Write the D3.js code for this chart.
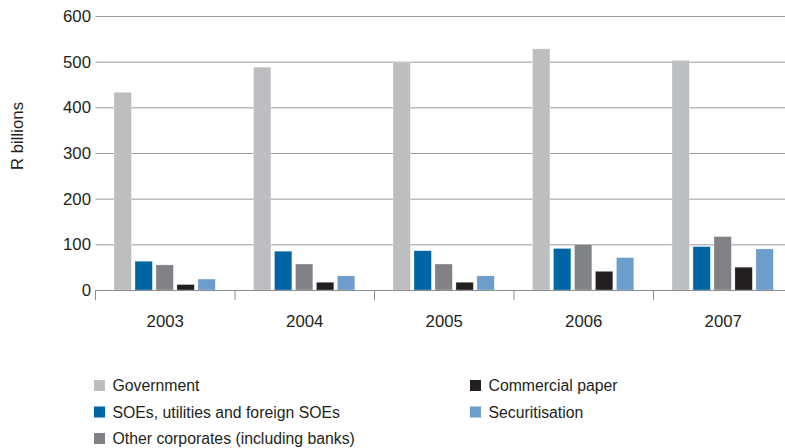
<!DOCTYPE html>
<html>
<head>
<meta charset="utf-8">
<script src="https://cdn.jsdelivr.net/npm/d3@7"></script>
<style>
  html, body { margin: 0; padding: 0; background: #fff; }
  svg { display: block; font-family: "Liberation Sans", Arial, sans-serif; }
</style>
</head>
<body>
<svg id="chart" width="785" height="448"></svg>
<script>
// Bond issuance by issuer type, R billions
const years = ["2003", "2004", "2005", "2006", "2007"];
const seriesNames = [
  "Government",
  "SOEs, utilities and foreign SOEs",
  "Other corporates (including banks)",
  "Commercial paper",
  "Securitisation"
];
const government   = [433, 488, 499, 528, 503];
const soes         = [63, 85, 86, 91, 95];
const otherCorp    = [55, 57, 57, 100, 117];
const commPaper    = [12, 17, 17, 41, 50];
const securitisation = [24, 31, 31, 71, 90];
const yTicks = [0, 100, 200, 300, 400, 500, 600];
const colors = ["#bcbec0", "#0065a4", "#808285", "#231f20", "#6d9ecb"];

const seriesValues = [government, soes, otherCorp, commPaper, securitisation];
const rows = years.map((y, i) => ({
  year: y,
  values: seriesNames.map((name, s) => ({ name, s, value: seriesValues[s][i] }))
}));

const FONT = "'Liberation Sans', Arial, sans-serif";
const svg = d3.select("#chart");

const x0 = d3.scaleBand().domain(years).range([95.5, 793]).paddingInner(0).paddingOuter(0);
const x1 = d3.scaleBand().domain(d3.range(seriesNames.length))
  .range([18.5, 18.5 + 101.3]).paddingInner(0.17).paddingOuter(0);
const y = d3.scaleLinear().domain([0, 600]).range([290, 16]);

// Horizontal gridlines and y labels
const yAxis = svg.append("g").attr("transform", "translate(95.5,0)")
  .call(d3.axisLeft(y).tickValues(yTicks).tickSize(-(793 - 95.5)).tickPadding(4.5).tickFormat(d3.format("d")));
yAxis.select(".domain").remove();
yAxis.selectAll(".tick line").attr("stroke", "#9a9c9f").attr("stroke-width", 1);
yAxis.selectAll(".tick text")
  .attr("fill", "#231f20").attr("font-size", "16.8px").attr("font-family", FONT);

// Bars
const groups = svg.append("g").selectAll("g").data(rows).join("g")
  .attr("transform", d => `translate(${x0(d.year)},0)`);
groups.selectAll("rect").data(d => d.values).join("rect")
  .attr("x", d => x1(d.s))
  .attr("width", x1.bandwidth())
  .attr("y", d => y(d.value))
  .attr("height", d => y(0) - y(d.value))
  .attr("fill", d => colors[d.s])
  .attr("stroke", "#ffffff").attr("stroke-width", 0.6).attr("stroke-opacity", 0.5);

// Category axis along the zero line
const xAxis = svg.append("g").attr("transform", `translate(0,${y(0)})`)
  .call(d3.axisBottom(x0).tickSize(0).tickPadding(25.5));
xAxis.select(".domain").attr("stroke", "#8a8c8e").attr("stroke-width", 1.2);
xAxis.selectAll(".tick text")
  .attr("fill", "#231f20").attr("font-size", "16.8px").attr("font-family", FONT);

// Boundary ticks between year groups
const boundaries = years.map(yr => x0(yr));
svg.append("g").selectAll("line").data(boundaries).join("line")
  .attr("x1", d => d).attr("x2", d => d)
  .attr("y1", y(0)).attr("y2", y(0) + 10)
  .attr("stroke", "#8a8c8e").attr("stroke-width", 1);

// Y-axis title
svg.append("text")
  .attr("transform", "translate(23,136) rotate(-90)")
  .attr("text-anchor", "middle")
  .attr("fill", "#231f20").attr("font-size", "16.8px").attr("font-family", FONT)
  .text("R billions");

// Legend
const legendPos = [
  { x: 94, y: 380 }, { x: 94, y: 406.5 }, { x: 94, y: 433 },
  { x: 470, y: 380 }, { x: 470, y: 406.5 }
];
const legend = svg.append("g").selectAll("g").data(d3.range(seriesNames.length)).join("g")
  .attr("transform", (d, i) => `translate(${legendPos[i].x},${legendPos[i].y})`);
legend.append("rect").attr("width", 11).attr("height", 11).attr("fill", d => colors[d]);
legend.append("text").attr("x", 18.5).attr("y", 5.5).attr("dy", "0.35em")
  .attr("fill", "#231f20").attr("font-size", "15.8px").attr("font-family", FONT)
  .text(d => seriesNames[d]);
</script>
</body>
</html>
